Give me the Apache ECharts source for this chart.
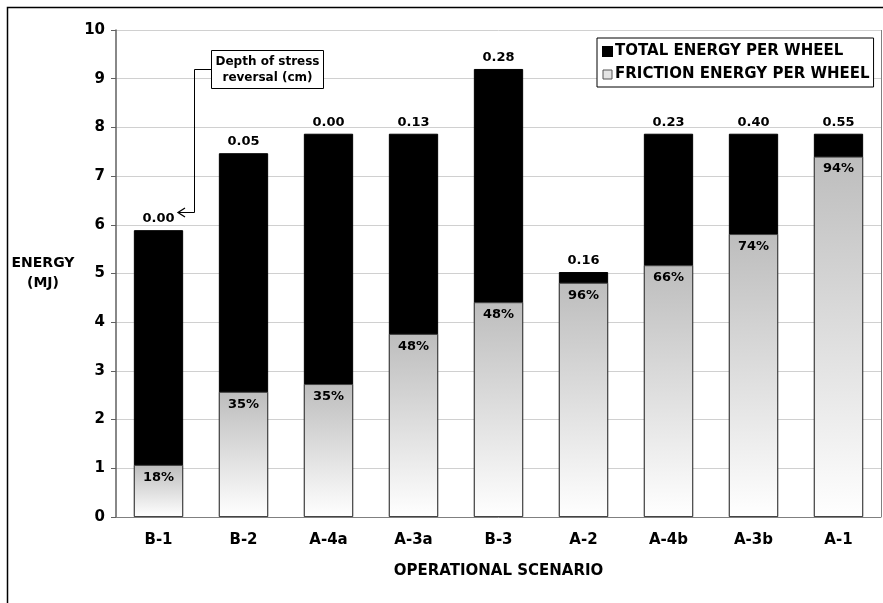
<!DOCTYPE html>
<html>
<head>
<meta charset="utf-8">
<script src="https://cdn.jsdelivr.net/npm/echarts@6/dist/echarts.min.js"></script>
<style>
html, body { margin: 0; padding: 0; background: #fff; }
#chartBox { width: 883px; height: 603px; }
</style>
</head>
<body>
<div id="chartBox"></div>
<script>
var scenarios = ['B-1', 'B-2', 'A-4a', 'A-3a', 'B-3', 'A-2', 'A-4b', 'A-3b', 'A-1'];
var totalEnergy = [5.89, 7.47, 7.87, 7.87, 9.2, 5.03, 7.87, 7.87, 7.87];
var frictionEnergy = [1.07, 2.57, 2.73, 3.76, 4.41, 4.81, 5.17, 5.81, 7.40];
var stressDepth = ['0.00', '0.05', '0.00', '0.13', '0.28', '0.16', '0.23', '0.40', '0.55'];
var frictionPct = ['18%', '35%', '35%', '48%', '48%', '96%', '66%', '74%', '94%'];
var yTicks = [0, 1, 2, 3, 4, 5, 6, 7, 8, 9, 10];

var FONT = '"DejaVu Sans", Verdana, sans-serif';

function loadEnergyChart() {
	var myChart = echarts.init(document.getElementById('chartBox'));
	var option = {
		animation: false,
		backgroundColor: '#fff',
		textStyle: { fontFamily: FONT, color: '#000' },
		grid: { left: 116, right: 2, top: 30, bottom: 86, containLabel: false, outerBoundsMode: 'none' },
		legend: {
			orient: 'vertical',
			left: 597,
			top: 38,
			backgroundColor: '#fff',
			borderColor: '#000',
			borderWidth: 1,
			padding: [6, 4, 5, 5],
			itemGap: 8,
			itemWidth: 9,
			itemHeight: 9,
			icon: 'rect',
			textStyle: { fontFamily: FONT, fontWeight: 'bold', fontSize: 15, color: '#000', padding: [0, 0, 0, -2] },
			data: [
				{ name: 'TOTAL ENERGY PER WHEEL', itemStyle: { color: '#000' } },
				{ name: 'FRICTION ENERGY PER WHEEL', itemStyle: { color: '#e4e4e4', borderColor: '#555', borderWidth: 1 } }
			]
		},
		xAxis: {
			type: 'category',
			data: scenarios,
			name: 'OPERATIONAL SCENARIO',
			nameLocation: 'middle',
			nameGap: 47,
			nameTextStyle: { fontFamily: FONT, fontWeight: 'bold', fontSize: 15, color: '#000' },
			axisLine: { lineStyle: { color: '#808080', width: 1 } },
			axisTick: { show: false },
			axisLabel: { fontFamily: FONT, fontWeight: 'bold', fontSize: 15, color: '#000', margin: 16 }
		},
		yAxis: {
			type: 'value',
			min: yTicks[0],
			max: yTicks[yTicks.length - 1],
			interval: 1,
			name: 'ENERGY\n(MJ)',
			nameLocation: 'middle',
			nameRotate: 0,
			nameGap: 73,
			nameTextStyle: { fontFamily: FONT, fontWeight: 'bold', fontSize: 14, color: '#000', lineHeight: 20, align: 'center', verticalAlign: 'middle' },
			axisLine: { show: true, lineStyle: { color: '#606060', width: 1.5 } },
			axisTick: { show: true, length: 5, lineStyle: { color: '#606060' } },
			axisLabel: { fontFamily: FONT, fontWeight: 'bold', fontSize: 15, color: '#000', margin: 11 },
			splitLine: { lineStyle: { color: '#d0d0d0', width: 1 } }
		},
		series: [
			{
				name: 'TOTAL ENERGY PER WHEEL',
				type: 'bar',
				data: totalEnergy,
				barWidth: '58%',
				barGap: '-100%',
				itemStyle: { color: '#000', borderColor: '#000', borderWidth: 1 },
				label: {
					show: true,
					position: 'top',
					distance: 5,
					fontFamily: FONT,
					fontWeight: 'bold',
					fontSize: 13,
					color: '#000',
					formatter: function(params) { return stressDepth[params.dataIndex]; }
				}
			},
			{
				name: 'FRICTION ENERGY PER WHEEL',
				type: 'bar',
				data: frictionEnergy,
				barWidth: '58%',
				z: 3,
				itemStyle: {
					color: new echarts.graphic.LinearGradient(0, 0, 0, 1, [
						{ offset: 0, color: '#bdbdbd' },
						{ offset: 1, color: '#ffffff' }
					]),
					borderColor: '#444',
					borderWidth: 1
				},
				label: {
					show: true,
					position: 'insideTop',
					distance: 6,
					fontFamily: FONT,
					fontWeight: 'bold',
					fontSize: 13,
					color: '#000',
					formatter: function(params) { return frictionPct[params.dataIndex]; }
				}
			}
		],
		graphic: [
			{
				// outer frame
				type: 'rect',
				shape: { x: 7.5, y: 7.5, width: 900, height: 700 },
				style: { fill: 'none', stroke: '#000', lineWidth: 1.5 },
				silent: true
			},
			{
				// plot right edge
				type: 'line',
				shape: { x1: 881.5, y1: 30, x2: 881.5, y2: 517 },
				style: { stroke: '#808080', lineWidth: 1 },
				silent: true
			},
			{
				type: 'polyline',
				shape: { points: [[211, 69.5], [194.5, 69.5], [194.5, 212.5], [178, 212.5]] },
				style: { fill: 'none', stroke: '#000', lineWidth: 1 },
				z: 10
			},
			{
				type: 'polyline',
				shape: { points: [[185, 208], [178, 212.5], [185, 217]] },
				style: { fill: 'none', stroke: '#000', lineWidth: 1.3 },
				z: 10
			},
			{
				type: 'rect',
				shape: { x: 211.5, y: 50.5, width: 112, height: 38 },
				style: { fill: '#fff', stroke: '#000', lineWidth: 1 },
				z: 10
			},
			{
				type: 'text',
				x: 267.5,
				y: 69.5,
				style: {
					text: 'Depth of stress\nreversal (cm)',
					fontFamily: FONT,
					fontWeight: 'bold',
					fontSize: 12,
					lineHeight: 16,
					fill: '#000',
					align: 'center',
					verticalAlign: 'middle'
				},
				z: 11
			}
		]
	};
	myChart.setOption(option);
}

loadEnergyChart();
</script>
</body>
</html>
